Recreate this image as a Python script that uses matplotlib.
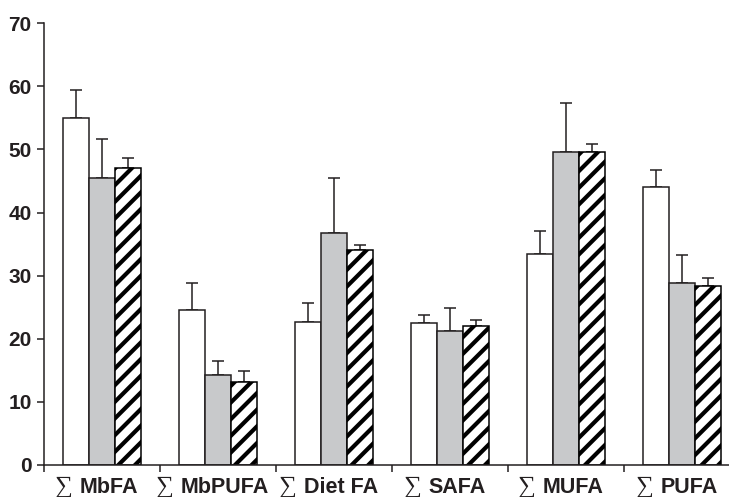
import matplotlib
matplotlib.use("Agg")
import matplotlib.pyplot as plt
import numpy as np
from matplotlib.offsetbox import TextArea, HPacker, AnnotationBbox

categories = ["MbFA", "MbPUFA", "Diet FA", "SAFA", "MUFA", "PUFA"]
white_vals = [55.0, 24.6, 22.7, 22.5, 33.5, 44.0]
white_err = [4.4, 4.3, 3.0, 1.2, 3.6, 2.8]
grey_vals = [45.4, 14.2, 36.7, 21.3, 49.6, 28.9]
grey_err = [6.3, 2.3, 8.7, 3.5, 7.8, 4.4]
hatch_vals = [47.0, 13.1, 34.0, 22.1, 49.6, 28.4]
hatch_err = [1.7, 1.8, 0.9, 0.8, 1.2, 1.2]
yticks = [0, 10, 20, 30, 40, 50, 60, 70]

DARK = "#231f20"
plt.rcParams["hatch.linewidth"] = 3.0
plt.rcParams["font.family"] = ["Liberation Sans", "DejaVu Sans"]

fig = plt.figure(figsize=(7.29, 4.97), dpi=100)
ax = fig.add_axes([44 / 729, 0.0644, 696 / 729, 0.8888])

n = len(categories)
x = np.arange(n) + 0.5
w = 0.222

series = [
    (white_vals, white_err, dict(facecolor="white", edgecolor=DARK)),
    (grey_vals, grey_err, dict(facecolor="#c8c9cb", edgecolor=DARK)),
    (hatch_vals, hatch_err, dict(facecolor="white", edgecolor="black", hatch="//")),
]
for k, (vals, err, style) in enumerate(series):
    pos = x + (k - 1) * w
    ax.bar(pos, vals, width=w, linewidth=1.1, zorder=2, **style)
    ax.errorbar(pos, vals, yerr=[np.zeros(n), err], fmt="none", ecolor=DARK,
                elinewidth=1.1, capsize=4.3, capthick=1.1, zorder=1)

ax.set_xlim(0, n)
ax.set_ylim(0, 70)
ax.set_yticks(yticks)
ax.set_yticklabels([str(t) for t in yticks], fontsize=15, fontweight="bold", color=DARK)
ax.set_xticks(np.arange(n + 1))
ax.set_xticklabels([])
ax.tick_params(axis="both", direction="out", length=5, width=1.1, color=DARK)
ax.tick_params(axis="y", pad=4)
for s in ["top", "right"]:
    ax.spines[s].set_visible(False)
for s in ["left", "bottom"]:
    ax.spines[s].set_color(DARK)
    ax.spines[s].set_linewidth(1.1)

for xi, name in zip(x, categories):
    sig = TextArea("\u2211", textprops=dict(fontsize=18, family=["Liberation Serif", "DejaVu Serif"], color=DARK))
    txt = TextArea(name, textprops=dict(fontsize=15.5, fontweight="bold", color=DARK))
    box = HPacker(children=[sig, txt], align="baseline", pad=0, sep=5)
    ab = AnnotationBbox(box, (xi, 0), xycoords=("data", "axes fraction"),
                        xybox=(-4, -8), boxcoords="offset points",
                        box_alignment=(0.5, 1.0), frameon=False, pad=0,
                        annotation_clip=False)
    ax.add_artist(ab)

fig.savefig("out.png", dpi=100)
